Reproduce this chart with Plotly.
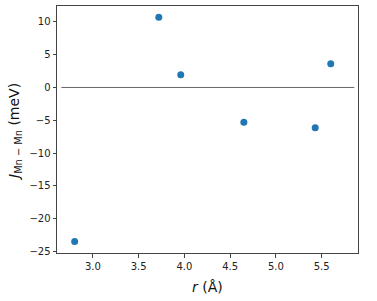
import plotly.graph_objects as go

r_values = [2.80, 3.72, 3.96, 4.65, 5.43, 5.60]
j_values = [-23.45, 10.70, 1.95, -5.30, -6.15, 3.60]
zero_line_x = [2.655, 5.857]
zero_line_y = [0, 0]
x_ticks = [3.0, 3.5, 4.0, 4.5, 5.0, 5.5]
y_ticks = [10, 5, 0, -5, -10, -15, -20, -25]
x_title = "<i>r</i> (Å)"
y_title = "<i>J</i><sub>Mn − Mn</sub> (meV)"

fig = go.Figure()
fig.add_trace(go.Scatter(x=zero_line_x, y=zero_line_y, mode="lines",
                         line=dict(color="#555555", width=0.9), hoverinfo="skip"))
fig.add_trace(go.Scatter(x=r_values, y=j_values, mode="markers",
                         marker=dict(color="#1f77b4", size=7, line=dict(width=0))))

axis_common = dict(showline=True, linecolor="#444444", linewidth=1, mirror=True,
                   ticks="outside", ticklen=3.5, tickwidth=0.8, tickcolor="#444444",
                   showgrid=False, zeroline=False, automargin=False,
                   tickfont=dict(family="DejaVu Sans", size=10, color="#222222"))

title_font = dict(family="DejaVu Sans", size=14, color="#111111")

fig.update_layout(
    width=377, height=301,
    margin=dict(l=57, r=19, t=6, b=48),
    plot_bgcolor="white", paper_bgcolor="white",
    showlegend=False,
    xaxis=dict(range=[2.607, 5.898], tickvals=x_ticks, ticktext=[f"{v:.1f}" for v in x_ticks],
               **axis_common),
    yaxis=dict(range=[-25.2, 12.4], tickvals=y_ticks, ticktext=[("−" + str(-v)) if v < 0 else str(v) for v in y_ticks],
               **axis_common),
    annotations=[
        dict(text=x_title, xref="paper", yref="paper", x=0.5, y=-0.138,
             xanchor="center", yanchor="middle", showarrow=False, font=title_font),
        dict(text=y_title, xref="paper", yref="paper", x=-0.1395, y=0.49,
             xanchor="center", yanchor="middle", textangle=-90, showarrow=False, font=title_font),
    ],
)

fig.write_html("out.html", config={"displayModeBar": False},
               post_script="document.body.style.margin='0';document.body.style.overflow='hidden';")
